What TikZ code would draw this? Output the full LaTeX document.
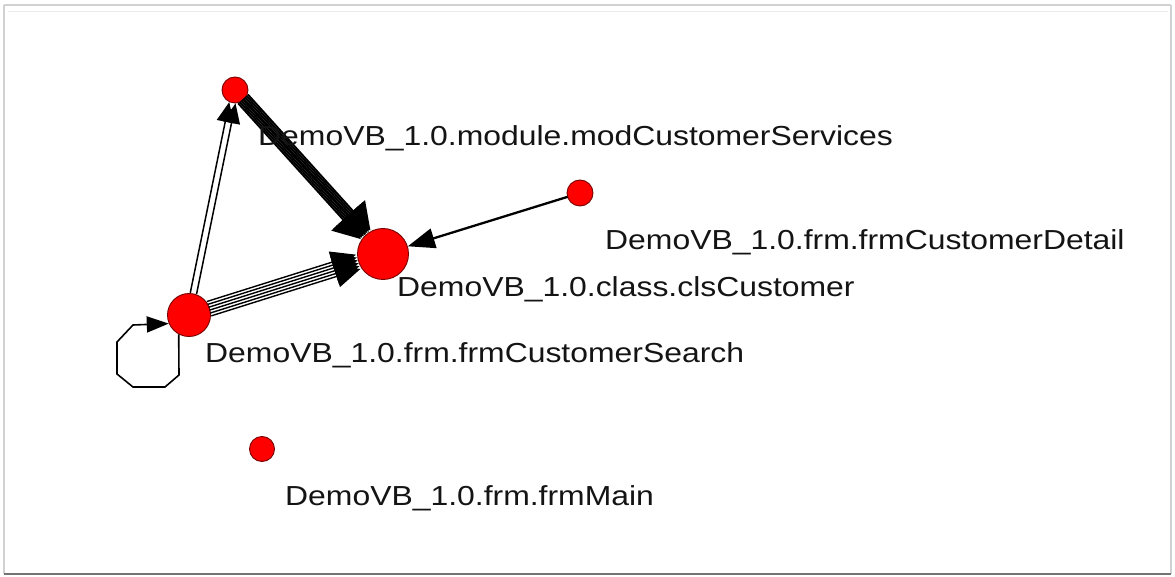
\documentclass[tikz,border=0pt]{standalone}
\usepackage{fontspec}
\newfontfamily\labfont[FakeStretch=1.16]{Liberation Sans}
\usetikzlibrary{arrows.meta,calc}
\definecolor{nodered}{RGB}{255,0,0}
\definecolor{noderim}{RGB}{120,0,0}
\tikzset{
  vert/.style={circle,fill=nodered,draw=noderim,line width=0.9pt,inner sep=0pt,minimum size=#1},
  lab/.style={anchor=base west,inner sep=0pt,font=\labfont\fontsize{27.5}{30}\selectfont,text=black!92},
  conn/.style={draw=black,line width=#1},
}
\newcommand{\bundleedge}[8]{%
  % #1 from, #2 to, #3 list of offsets, #4 line width, #5 r from, #6 r to, #7 tip length, #8 tip width
  \foreach \o in {#3}{
    \draw[conn=#4,shorten <=#5,shorten >=#6,-{Triangle[length=#7,width=#8]}]
      ($(#1)!\o!90:(#2)$) -- ($(#2)!\o!-90:(#1)$);
  }%
}
\begin{document}
\begin{tikzpicture}[x=1pt,y=-1pt]
\useasboundingbox (0,0) rectangle (1175,577);
\fill[white] (0,0) rectangle (1175,577);
% frame
\draw[black!18,line width=1.2pt] (4,5) -- (1171,5);
\draw[black!8,line width=0.8pt] (8,11) -- (1168,11);
\draw[black!18,line width=1.2pt] (4,5) -- (4,574);
\draw[black!18,line width=1.2pt] (1171,5) -- (1171,574);
\draw[black!55,line width=1.6pt] (4,574) -- (1171,574);

% nodes
\node[vert=26pt] (mod) at (235,90) {};
\node[vert=51pt] (cls) at (383,254) {};
\node[vert=26pt] (det) at (580,193) {};
\node[vert=43pt] (srch) at (189,315) {};
\node[vert=25pt] (main) at (262,449) {};

% edges
\bundleedge{srch}{mod}{-3.2pt,3.2pt}{1.5pt}{22pt}{13pt}{20pt}{17pt}
\bundleedge{mod}{cls}{-6.5pt,-4.5pt,-2.5pt,-0.5pt,0.5pt,2.5pt,4.5pt,6.5pt}{2pt}{12pt}{26pt}{26pt}{32pt}
\bundleedge{srch}{cls}{-7.5pt,-4.5pt,-1.5pt,1.5pt,4.5pt,7.5pt}{1.4pt}{21pt}{26pt}{25pt}{22pt}
\bundleedge{det}{cls}{0pt}{2.3pt}{13pt}{26pt}{27pt}{20pt}

% self loop
\coordinate (l1) at (179,375);
\coordinate (l2) at (165,387);
\coordinate (l3) at (133,387);
\coordinate (l4) at (117,374);
\coordinate (l5) at (117,342);
\coordinate (l6) at (133,325);
\draw[conn=1.6pt,-{Triangle[length=22pt,width=16pt]}]
  (srch.-118) -- (l1) -- (l2) -- (l3) -- (l4) -- (l5) -- (l6) -- (srch.-157);

% labels
\node[lab] (lmod) at (258,146) {DemoVB\_1.0.module.modCustomerServices};
\node[lab] (ldet) at (605,250) {DemoVB\_1.0.frm.frmCustomerDetail};
\node[lab] (lcls) at (397,297) {DemoVB\_1.0.class.clsCustomer};
\node[lab] (lsrch) at (205,362) {DemoVB\_1.0.frm.frmCustomerSearch};
\node[lab] (lmain) at (285,505) {DemoVB\_1.0.frm.frmMain};
\end{tikzpicture}
\end{document}
